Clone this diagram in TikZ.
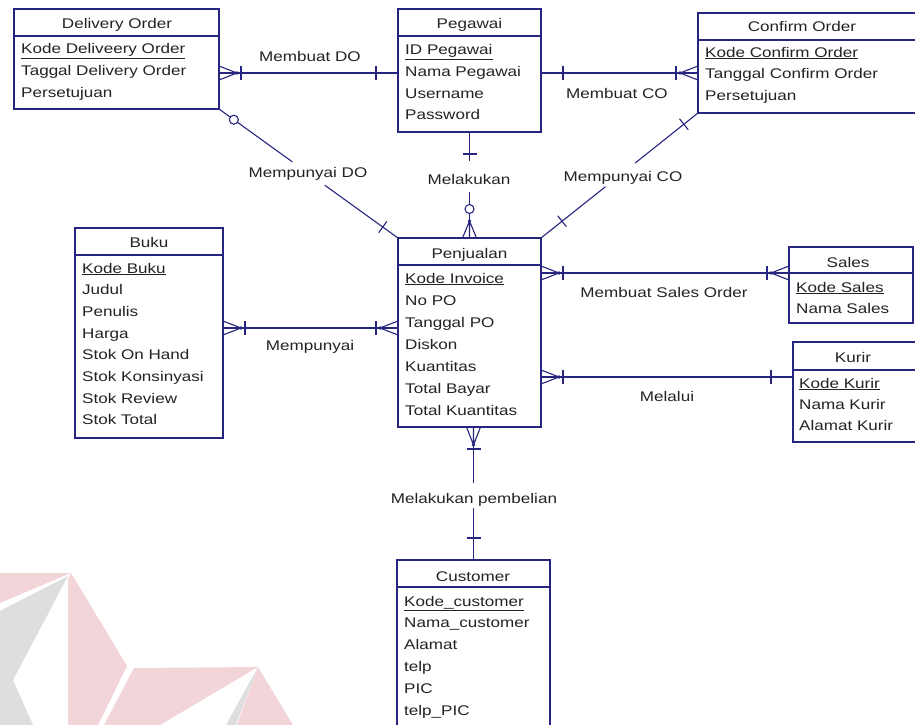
\documentclass[tikz,border=0pt]{standalone}
\usepackage{fontspec}
\setmainfont{Liberation Sans}[FakeStretch=1.22]
\usetikzlibrary{calc}
\definecolor{navy}{RGB}{38,38,128}
\definecolor{tx}{RGB}{35,35,35}
\definecolor{wpink}{RGB}{242,213,217}
\definecolor{wgray}{RGB}{222,222,222}
\newcommand{\entattrs}[5]{%
  \foreach \t [count=\i from 0] in {#5} {\node[attr] (#1\i) at (#2,#3+#4*\i) {\t};}}
\begin{document}
\begin{tikzpicture}[x=1pt,y=-1pt,
  ln/.style={draw=navy,line width=1.1pt},
  ebox/.style={draw=navy,line width=1.1pt,fill=white,inner sep=0pt,outer sep=0pt,anchor=north west},
  attr/.style={text=tx,inner sep=0pt,anchor=base west,font=\fontsize{14}{16}\selectfont},
  ttl/.style={attr,anchor=base},
  lbl/.style={attr,anchor=base},
  crowbar/.pic={\draw[ln] (0,-7) -- (18,0) -- (0,7) (0,0) -- (18,0);
                \fill[navy] (18,0) circle[radius=1.8pt];
                \draw[ln] (22,-7) -- (22,7);},
  onebar/.pic={\draw[ln] (22,-7) -- (22,7);},
  crowcirc/.pic={\draw[ln] (0,-7) -- (17,0) -- (0,7) (0,0) -- (17,0);
                 \fill[navy] (17,0) circle[radius=1.8pt];
                 \draw[ln,fill=white] (29,0) circle[radius=4.5pt];}
]
\useasboundingbox (0,0) rectangle (915,725);
\clip (0,0) rectangle (915,725);
\fill[white] (0,0) rectangle (915,725);

% watermark
\fill[wpink] (0,573) -- (71,573) -- (0,603) -- cycle;
\fill[wgray] (68,576) -- (0,611) -- (0,725) -- (33,725) -- (13,680) -- cycle;
\fill[wpink] (71,573) -- (127,666) -- (98,725) -- (68,725) -- (68,579) -- cycle;
\fill[wpink] (134,668) -- (258,667) -- (160,725) -- (104,725) -- cycle;
\fill[wgray] (258,667) -- (236,725) -- (226,725) -- cycle;
\fill[wpink] (258,667) -- (293,725) -- (237,725) -- cycle;

% entities
\node[ebox,minimum width=205pt,minimum height=100pt] (do) at (14,9) {};
\draw[ln] (do.west |- 0,36) -- (do.east |- 0,36);
\node[ttl] (dot) at (117,29) {Delivery Order};
\entattrs{doa}{21}{54}{21.5}{{\underline{Kode Deliveery Order}},Taggal Delivery Order,Persetujuan}

\node[ebox,minimum width=143pt,minimum height=123pt] (peg) at (398,9) {};
\draw[ln] (peg.west |- 0,36) -- (peg.east |- 0,36);
\node[ttl] (pegt) at (469.5,29) {Pegawai};
\entattrs{pega}{405}{55}{21.5}{{\underline{ID Pegawai}},Nama Pegawai,Username,Password}

\node[ebox,minimum width=222pt,minimum height=100pt] (co) at (698,13) {};
\draw[ln] (co.west |- 0,40) -- (co.east |- 0,40);
\node[ttl] (cot) at (802,32) {Confirm Order};
\entattrs{coa}{705}{57}{21.5}{{\underline{Kode Confirm Order}},Tanggal Confirm Order,Persetujuan}

\node[ebox,minimum width=148pt,minimum height=210pt] (buku) at (75,228) {};
\draw[ln] (buku.west |- 0,255) -- (buku.east |- 0,255);
\node[ttl] (bukut) at (149,247) {Buku};
\entattrs{bukua}{82}{273}{21.7}{{\underline{Kode Buku}},Judul,Penulis,Harga,Stok On Hand,Stok Konsinyasi,Stok Review,Stok Total}

\node[ebox,minimum width=143pt,minimum height=189pt] (penj) at (398,238) {};
\draw[ln] (penj.west |- 0,265) -- (penj.east |- 0,265);
\node[ttl] (penjt) at (469.5,258) {Penjualan};
\entattrs{penja}{405}{283}{22}{{\underline{Kode Invoice}},No PO,Tanggal PO,Diskon,Kuantitas,Total Bayar,Total Kuantitas}

\node[ebox,minimum width=124pt,minimum height=76pt] (sales) at (789,247) {};
\draw[ln] (sales.west |- 0,273) -- (sales.east |- 0,273);
\node[ttl] (salest) at (848,267) {Sales};
\entattrs{salesa}{796}{292}{21.4}{{\underline{Kode Sales}},Nama Sales}

\node[ebox,minimum width=127pt,minimum height=100pt] (kurir) at (793,342) {};
\draw[ln] (kurir.west |- 0,370) -- (kurir.east |- 0,370);
\node[ttl] (kurirt) at (853,362) {Kurir};
\entattrs{kurira}{799}{388}{21}{{\underline{Kode Kurir}},Nama Kurir,Alamat Kurir}

\node[ebox,minimum width=153pt,minimum height=200pt] (cust) at (397,560) {};
\draw[ln] (cust.west |- 0,587) -- (cust.east |- 0,587);
\node[ttl] (custt) at (473,581) {Customer};
\entattrs{custa}{404}{606}{21.9}{{\underline{Kode\_customer}},Nama\_customer,Alamat,telp,PIC,telp\_PIC}

% relationship labels
\node[lbl] (lmdo) at (310,62) {Membuat DO};
\node[lbl] (lmco) at (617,98) {Membuat CO};
\node[lbl] (lpdo) at (308,177) {Mempunyai DO};
\node[lbl] (lmel) at (469,184) {Melakukan};
\node[lbl] (lpco) at (623,181) {Mempunyai CO};
\node[lbl] (lmp) at (310,350) {Mempunyai};
\node[lbl] (lmso) at (664,297) {Membuat Sales Order};
\node[lbl] (lmll) at (667,401) {Melalui};
\node[lbl] (lmpb) at (474,503) {Melakukan pembelian};

% Delivery Order -- Pegawai
\draw[ln] (do.east |- 0,73) -- (peg.west |- 0,73);
\pic at (do.east |- 0,73) {crowbar};
\pic[rotate=180] at (peg.west |- 0,73) {onebar};

% Pegawai -- Confirm Order
\draw[ln] (peg.east |- 0,73) -- (co.west |- 0,73);
\pic at (peg.east |- 0,73) {onebar};
\pic[rotate=180] at (co.west |- 0,73) {crowbar};

% Pegawai -- Penjualan
\draw[ln] (peg.south) -- (peg.south |- 0,161);
\draw[ln] (peg.south |- 0,192) -- (penj.north);
\pic[rotate=-90] at (peg.south) {onebar};
\pic[rotate=90] at (penj.north) {crowcirc};

% Delivery Order -- Penjualan
\draw[ln] (do.south east) -- ($(do.south east)!0.41!(penj.north west)$);
\draw[ln] ($(do.south east)!0.59!(penj.north west)$) -- (penj.north west);
\draw[ln,fill=white] ($(do.south east)!0.083!(penj.north west)$) circle[radius=4.5pt];
\draw[ln] ($(do.south east)!0.915!(penj.north west)!7pt!90:(penj.north west)$) -- ($(do.south east)!0.915!(penj.north west)!7pt!-90:(penj.north west)$);

% Penjualan -- Confirm Order
\draw[ln] (penj.north east) -- ($(penj.north east)!0.41!(co.south west)$);
\draw[ln] ($(penj.north east)!0.6!(co.south west)$) -- (co.south west);
\draw[ln] ($(penj.north east)!0.134!(co.south west)!7pt!90:(co.south west)$) -- ($(penj.north east)!0.134!(co.south west)!7pt!-90:(co.south west)$);
\draw[ln] ($(penj.north east)!0.91!(co.south west)!7pt!90:(co.south west)$) -- ($(penj.north east)!0.91!(co.south west)!7pt!-90:(co.south west)$);

% Buku -- Penjualan
\draw[ln] (buku.east |- 0,328) -- (penj.west |- 0,328);
\pic at (buku.east |- 0,328) {crowbar};
\pic[rotate=180] at (penj.west |- 0,328) {crowbar};

% Penjualan -- Sales
\draw[ln] (penj.east |- 0,273) -- (sales.west |- 0,273);
\pic at (penj.east |- 0,273) {crowbar};
\pic[rotate=180] at (sales.west |- 0,273) {crowbar};

% Penjualan -- Kurir
\draw[ln] (penj.east |- 0,377) -- (kurir.west |- 0,377);
\pic at (penj.east |- 0,377) {crowbar};
\pic[rotate=180] at (kurir.west |- 0,377) {onebar};

% Penjualan -- Customer
\draw[ln] (cust.north |- penj.south) -- (cust.north |- 0,483);
\draw[ln] (cust.north |- 0,508) -- (cust.north);
\pic[rotate=-90] at (cust.north |- penj.south) {crowbar};
\pic[rotate=90] at (cust.north) {onebar};
\end{tikzpicture}
\end{document}
